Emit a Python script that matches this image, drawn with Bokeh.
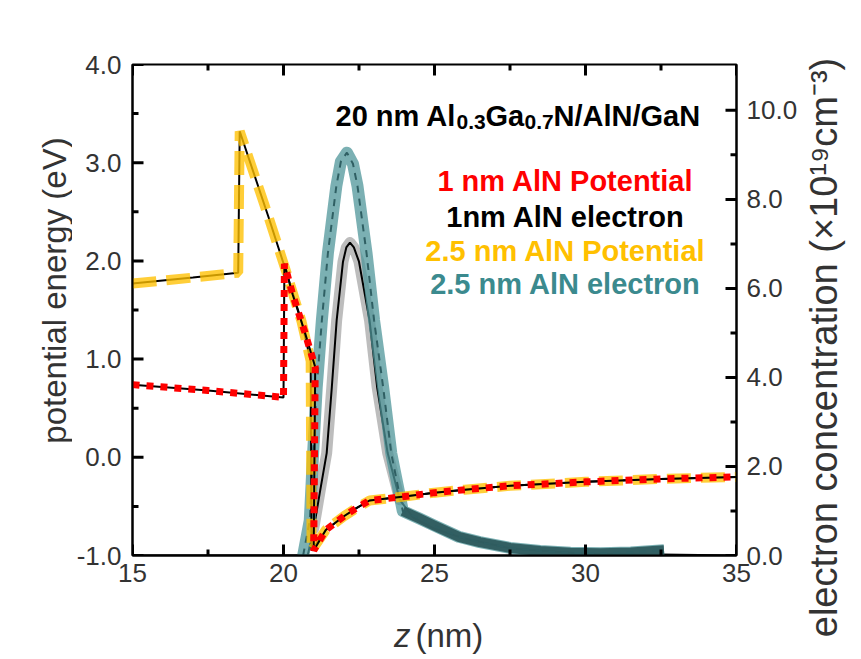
import math
from bokeh.plotting import figure
from bokeh.layouts import row, column
from bokeh.models import Range1d, LinearAxis, FixedTicker, Label, NumeralTickFormatter
from bokeh.embed import file_html
from bokeh.resources import INLINE

# ---------------- data ----------------
# 1 nm AlN : potential energy (eV)
z_pot_1nm = [15.0, 17.5, 20.0, 20.03, 20.3, 20.7, 21.05, 21.0, 21.4, 22.0, 22.4, 22.85,
             24.0, 25.0, 26.0, 27.5, 30.0, 32.5, 35.0]
u_pot_1nm = [0.74, 0.68, 0.61, 1.97, 1.66, 1.28, 0.92, -0.95, -0.74, -0.60, -0.52, -0.44,
             -0.40, -0.36, -0.33, -0.29, -0.25, -0.22, -0.20]

# 2.5 nm AlN : potential energy (eV)
z_pot_25nm = [15.0, 17.0, 18.5, 18.55, 19.5, 20.1, 20.6, 20.9, 20.93, 21.4, 22.0, 22.4,
              22.85, 24.0, 25.0, 26.0, 27.5, 30.0, 32.5, 35.0]
u_pot_25nm = [1.77, 1.83, 1.88, 3.32, 2.45, 1.88, 1.38, 0.98, -0.95, -0.74, -0.60, -0.52,
              -0.44, -0.40, -0.36, -0.33, -0.29, -0.25, -0.22, -0.20]

# 1 nm AlN : electron concentration (x1e19 cm^-3)
z_el_1nm = [15.0, 20.8, 21.0, 21.2, 21.43, 21.6, 21.76, 21.97, 22.08, 22.2, 22.33, 22.5,
            22.85, 23.1, 23.45, 23.85, 24.3, 25.0, 26.0, 27.5, 30.0, 32.5, 35.0]
n_el_1nm = [0.0, 0.0, 0.6, 1.4, 2.3, 3.78, 5.28, 6.6, 6.92, 7.03, 6.92, 6.6,
            5.28, 3.78, 2.3, 1.25, 0.85, 0.6, 0.38, 0.16, 0.04, 0.02, 0.0]

# 2.5 nm AlN : electron concentration (x1e19 cm^-3)
z_el_25nm = [20.65, 20.87, 20.98, 21.1, 21.27, 21.47, 21.75, 21.9, 22.1, 22.3, 22.45,
             22.75, 23.0, 23.3, 23.57, 23.95, 24.5, 25.0, 25.8, 26.5, 27.5, 28.5, 29.5,
             30.5, 31.5, 32.6]
n_el_25nm = [0.0, 0.79, 2.29, 3.78, 5.28, 6.79, 8.3, 8.85, 9.05, 8.8, 8.3,
             6.79, 5.28, 3.78, 2.29, 1.0, 0.83, 0.67, 0.42, 0.30, 0.17, 0.10, 0.06,
             0.05, 0.07, 0.12]

x_ticks = [15, 20, 25, 30, 35]
x_minor = [17.5, 22.5, 27.5, 32.5]
yl_ticks = [-1, 0, 1, 2, 3, 4]
yl_minor = [-0.5, 0.5, 1.5, 2.5, 3.5]
yr_ticks = [0, 2, 4, 6, 8, 10]
yr_minor = [1, 3, 5, 7, 9]

legend_texts = ["1 nm AlN Potential", "1nm AlN electron", "2.5 nm AlN Potential",
                "2.5 nm AlN electron"]
legend_colors = ["#FF0000", "#000000", "#FFC000", "#3B8A8E"]

FONT = "Liberation Sans"
X0, X1, Y0, Y1, R1 = 15, 35, -1, 4, 11.03

# ---------------- main figure ----------------
MAIN_W, MAIN_H = 728, 600
BL, BR, BT, BB = 60, 62, 64, 45
p = figure(width=MAIN_W, height=MAIN_H, x_range=Range1d(X0, X1), y_range=Range1d(Y0, Y1),
           output_backend="svg", toolbar_location=None,
           x_axis_location=None, y_axis_location=None,
           min_border_left=BL, min_border_right=BR, min_border_top=BT,
           min_border_bottom=BB)
p.extra_y_ranges = {"conc": Range1d(0, R1)}
p.outline_line_color = "black"
p.outline_line_width = 2
p.grid.visible = False
p.background_fill_color = "white"
p.border_fill_color = "white"

FRAME_W = MAIN_W - BL - BR
FRAME_H = MAIN_H - BT - BB


def style(ax):
    ax.axis_line_width = 2
    ax.axis_line_color = "black"
    ax.major_tick_in = 0
    ax.major_tick_out = 0
    ax.minor_tick_in = 0
    ax.minor_tick_out = 0
    ax.major_label_text_font = FONT
    ax.major_label_text_font_size = "26px"
    ax.major_label_text_color = "#333333"


bottom = LinearAxis(ticker=FixedTicker(ticks=x_ticks, minor_ticks=x_minor))
style(bottom)
bottom.major_label_standoff = 8
p.add_layout(bottom, "below")

left = LinearAxis(ticker=FixedTicker(ticks=yl_ticks, minor_ticks=yl_minor),
                  formatter=NumeralTickFormatter(format="0.0"))
style(left)
left.major_label_standoff = 11
p.add_layout(left, "left")

right = LinearAxis(y_range_name="conc",
                   ticker=FixedTicker(ticks=yr_ticks, minor_ticks=yr_minor),
                   formatter=NumeralTickFormatter(format="0.0"))
style(right)
right.major_label_standoff = 10
p.add_layout(right, "right")

# ---------------- electron curves (right axis) ----------------
band_idx = [i for i, z in enumerate(z_el_1nm) if 20.9 <= z <= 24.0]
p.line([z_el_1nm[i] for i in band_idx], [n_el_1nm[i] for i in band_idx],
       y_range_name="conc", line_color="#9A9A9A", line_alpha=0.65, line_width=11,
       line_cap="round", line_join="round")
p.line(z_el_1nm, n_el_1nm, y_range_name="conc", line_color="black", line_width=2)

p.line(z_el_25nm, n_el_25nm, y_range_name="conc", line_color="#4F9599",
       line_alpha=0.75, line_width=12, line_join="round")
tail_idx = [i for i, z in enumerate(z_el_25nm) if z >= 23.95]
p.line([z_el_25nm[i] for i in tail_idx], [n_el_25nm[i] for i in tail_idx],
       y_range_name="conc", line_color="#2E5B5E", line_alpha=0.95, line_width=10,
       line_join="round")
p.line(z_el_25nm, n_el_25nm, y_range_name="conc", line_color="#2F5F63",
       line_width=2, line_dash="7 6")

# ---------------- potential curves (left axis) ----------------
p.line(z_pot_25nm, u_pot_25nm, line_color="black", line_width=2)
p.line(z_pot_25nm, u_pot_25nm, line_color="#FFC000", line_alpha=0.78, line_width=10,
       line_dash="24 10")
p.line(z_pot_1nm, u_pot_1nm, line_color="black", line_width=2)
p.line(z_pot_1nm, u_pot_1nm, line_color="#FF0000", line_width=7, line_dash="7 7")

# ---------------- inward ticks: filled bars centred on the frame edge ----------------
MAJ, MIN = 22, 12       # full bar length in px; the outer half is clipped by the frame
TW = 3
for ticks, L in ((x_ticks, MAJ), (x_minor, MIN)):
    n = len(ticks)
    for yy in (Y0, Y1):
        p.rect(x=ticks, y=[yy] * n, width=TW, height=L, width_units="screen",
               height_units="screen", fill_color="black", line_color=None)
for ticks, L in ((yl_ticks, MAJ), (yl_minor, MIN)):
    n = len(ticks)
    p.rect(x=[X0] * n, y=ticks, width=L, height=TW, width_units="screen",
           height_units="screen", fill_color="black", line_color=None)
for ticks, L in ((yr_ticks, MAJ), (yr_minor, MIN)):
    n = len(ticks)
    p.rect(x=[X1] * n, y=ticks, width=L, height=TW, width_units="screen",
           height_units="screen", fill_color="black", line_color=None,
           y_range_name="conc")


def lab(fig, x, y, text, size, color="black", style="normal", align="left",
        baseline="alphabetic", angle=0.0, units="screen"):
    fig.add_layout(Label(x=x, y=y, x_units=units, y_units=units, text=text,
                         text_font=FONT, text_font_size=size, text_color=color,
                         text_font_style=style, text_align=align,
                         text_baseline=baseline, angle=angle))


# title with subscripts (frame-relative pixels)
lab(p, 203, 440, "20 nm Al", "29px", style="bold")
lab(p, 324, 434, "0.3", "21px", style="bold")
lab(p, 353, 440, "Ga", "29px", style="bold")
lab(p, 392, 434, "0.7", "21px", style="bold")
lab(p, 421, 440, "N/AlN/GaN", "29px", style="bold")

for k, (t, c) in enumerate(zip(legend_texts, legend_colors)):
    lab(p, 433, [375, 339, 305, 272][k], t, "29px", color=c, style="bold", align="center")


# ---------------- strips for the axis titles ----------------
def strip(w, h):
    s = figure(width=w, height=h, x_range=Range1d(0, w), y_range=Range1d(0, h),
               output_backend="svg", toolbar_location=None,
               x_axis_location=None, y_axis_location=None, min_border=0)
    s.outline_line_color = None
    s.grid.visible = False
    s.background_fill_color = "white"
    s.border_fill_color = "white"
    return s


LEFT_W, TOTAL_H = 72, 659
RIGHT_W = 861 - LEFT_W - MAIN_W
left_strip = strip(LEFT_W, TOTAL_H)
lab(left_strip, 54, 369, "potential energy (eV)", "33px", color="#333333",
    align="center", baseline="middle", angle=math.pi / 2, units="data")

right_strip = strip(RIGHT_W, TOTAL_H)
lab(right_strip, 23, 312, "electron concentration (×10¹⁹cm⁻³)", "38px",
    color="#333333", align="center", baseline="middle", angle=math.pi / 2, units="data")

bottom_strip = strip(MAIN_W, TOTAL_H - MAIN_H)
lab(bottom_strip, 335, 24, "z", "33px", color="#333333", style="italic",
    align="right", units="data")
lab(bottom_strip, 341, 24, "(nm)", "33px", color="#333333", align="left", units="data")

layout = row(left_strip, column(p, bottom_strip, spacing=0), right_strip, spacing=0)

open("out.html", "w").write(file_html(layout, INLINE))
